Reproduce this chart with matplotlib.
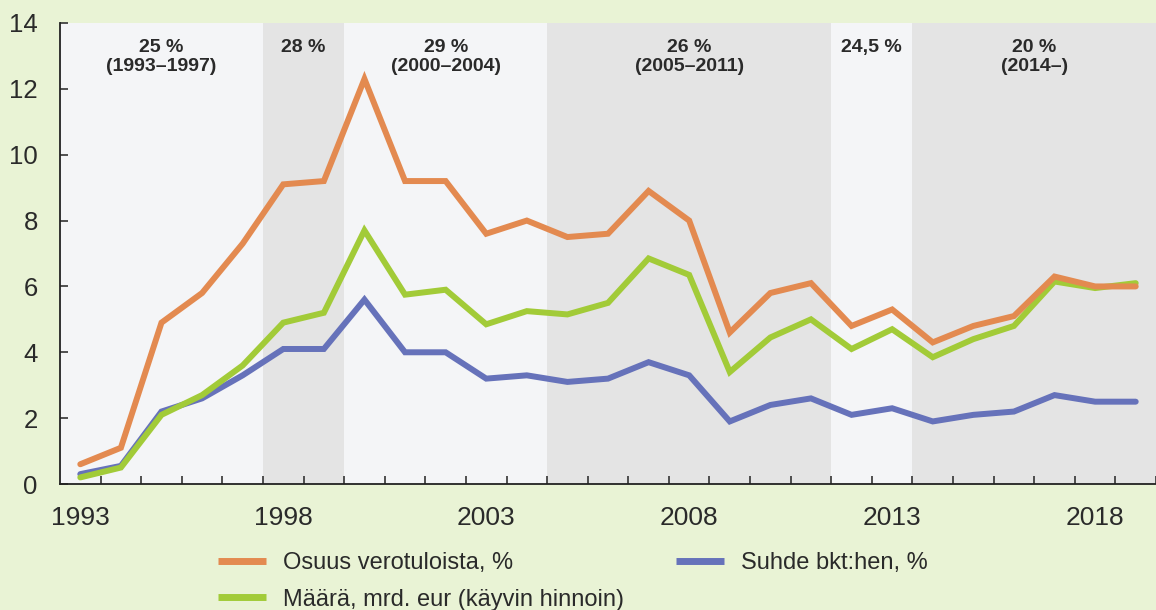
import matplotlib
matplotlib.use("Agg")
import matplotlib.pyplot as plt
from matplotlib.ticker import FixedLocator, NullFormatter

plt.rcParams['font.family'] = ['Liberation Sans', 'DejaVu Sans']

years = list(range(1993, 2020))
osuus = [0.6, 1.1, 4.9, 5.8, 7.3, 9.1, 9.2, 12.3, 9.2, 9.2, 7.6, 8.0, 7.5, 7.6,
         8.9, 8.0, 4.6, 5.8, 6.1, 4.8, 5.3, 4.3, 4.8, 5.1, 6.3, 6.0, 6.0]
maara = [0.2, 0.5, 2.1, 2.7, 3.6, 4.9, 5.2, 7.7, 5.75, 5.9, 4.85, 5.25, 5.15, 5.5,
         6.85, 6.35, 3.4, 4.45, 5.0, 4.1, 4.7, 3.85, 4.4, 4.8, 6.15, 5.95, 6.1]
suhde = [0.3, 0.55, 2.2, 2.6, 3.3, 4.1, 4.1, 5.6, 4.0, 4.0, 3.2, 3.3, 3.1, 3.2,
         3.7, 3.3, 1.9, 2.4, 2.6, 2.1, 2.3, 1.9, 2.1, 2.2, 2.7, 2.5, 2.5]

# tax-rate periods: (first year, last year, label)
period_start = [1993, 1998, 2000, 2005, 2012, 2014]
period_end = [1997, 1999, 2004, 2011, 2013, 2019]
period_labels = ["25 %\n(1993–1997)", "28 %", "29 %\n(2000–2004)",
                 "26 %\n(2005–2011)", "24,5 %", "20 %\n(2014–)"]

series_labels = ["Osuus verotuloista, %", "Määrä, mrd. eur (käyvin hinnoin)", "Suhde bkt:hen, %"]
xtick_years = [1993, 1998, 2003, 2008, 2013, 2018]
yticks = [0, 2, 4, 6, 8, 10, 12, 14]

BG = "#e9f3d5"
LIGHT = "#f4f5f7"
DARK = "#e4e4e4"
C_OR = "#e38a50"
C_GR = "#a2cb38"
C_BL = "#6672ba"
TXT = "#2a2a2a"

fig = plt.figure(figsize=(11.56, 6.10), dpi=100, facecolor=BG)
ax = fig.add_axes([60/1156, (610-484)/610, 1096/1156, (484-23)/610])
ax.set_facecolor(BG)

for i, (s, e, lab) in enumerate(zip(period_start, period_end, period_labels)):
    col = LIGHT if i % 2 == 0 else DARK
    ax.axvspan(s - 0.5, e + 0.5, color=col, zorder=0, lw=0)
    ax.text((s + e) / 2, 13.52, lab, ha='center', va='top', fontsize=14,
            fontweight='bold', color=TXT, linespacing=1.17, zorder=5)

lw = 4.3
l_bl, = ax.plot(years, suhde, color=C_BL, lw=lw, solid_capstyle='round', solid_joinstyle='miter', zorder=3)
l_gr, = ax.plot(years, maara, color=C_GR, lw=lw, solid_capstyle='round', solid_joinstyle='miter', zorder=4)
l_or, = ax.plot(years, osuus, color=C_OR, lw=lw, solid_capstyle='round', solid_joinstyle='miter', zorder=4)

ax.set_xlim(1992.5, 2019.5)
ax.set_ylim(0, 14)

ax.xaxis.set_major_locator(FixedLocator(xtick_years))
ax.set_xticklabels([str(y) for y in xtick_years])
ax.xaxis.set_minor_locator(FixedLocator([y + 0.5 for y in years]))
ax.xaxis.set_minor_formatter(NullFormatter())
ax.tick_params(axis='x', which='major', length=0, pad=16, labelsize=19, labelcolor=TXT)
ax.tick_params(axis='x', which='minor', length=6, width=1.2, direction='in', color='#333333')

ax.set_yticks(yticks)
ax.tick_params(axis='y', which='major', length=6, width=1.2, direction='in', pad=16,
               labelsize=18.5, labelcolor=TXT, color='#333333')

for sp in ['top', 'right']:
    ax.spines[sp].set_visible(False)
for sp in ['left', 'bottom']:
    ax.spines[sp].set_color('#222222')
    ax.spines[sp].set_linewidth(1.3)
    ax.spines[sp].set_zorder(6)

leg = fig.legend([l_or, l_gr, l_bl], series_labels, ncol=2, frameon=False,
                 loc='upper left', bbox_to_anchor=(218/1156, (610-552)/610),
                 fontsize=17, handlelength=2.05, handletextpad=0.7,
                 columnspacing=2.2, labelspacing=0.62, borderpad=0, borderaxespad=0)
for t in leg.get_texts():
    t.set_color(TXT)
for h in leg.legend_handles:
    h.set_linewidth(5)
    h.set_solid_capstyle('butt')

fig.savefig("out.png", dpi=100, facecolor=BG)
